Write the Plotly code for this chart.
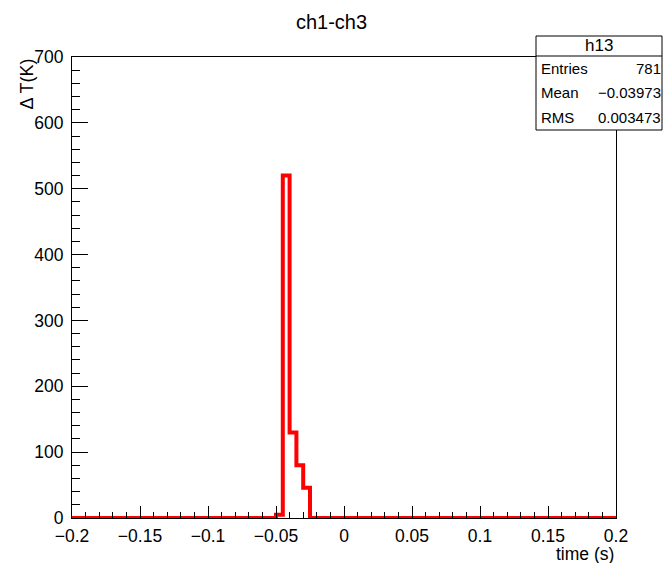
import plotly.graph_objects as go

# Histogram data: 80 bins from -0.2 to 0.2
x_min = -0.2
x_max = 0.2
n_bins = 80
nonzero_bin_lows = [-0.05, -0.045, -0.04, -0.035, -0.03]
nonzero_counts = [5, 520, 130, 80, 46]

x_tick_vals = [-0.2, -0.15, -0.1, -0.05, 0, 0.05, 0.1, 0.15, 0.2]
x_tick_text = ["\u22120.2", "\u22120.15", "\u22120.1", "\u22120.05", "0", "0.05", "0.1", "0.15", "0.2"]
y_tick_vals = [0, 100, 200, 300, 400, 500, 600, 700]
y_tick_text = ["0", "100", "200", "300", "400", "500", "600", "700"]

title_text = "ch1-ch3"
x_title = "time (s)"
y_title = "\u0394 T(K)"
stats_name = "h13"
stats_labels = ["Entries", "Mean", "RMS"]
stats_values = ["781", "\u22120.03973", "0.003473"]

width = (x_max - x_min) / n_bins
edges = [round(x_min + i * width, 6) for i in range(n_bins + 1)]
counts = [0.0] * n_bins
for lo, c in zip(nonzero_bin_lows, nonzero_counts):
    idx = int(round((lo - x_min) / width))
    counts[idx] = c
ys = counts + [counts[-1]]

font_family = "Liberation Sans, Arial, Helvetica, sans-serif"

fig = go.Figure()
fig.add_trace(go.Scatter(
    x=edges, y=ys, mode="lines", line=dict(color="#ff0000", width=4, shape="hv"),
    hoverinfo="skip", showlegend=False,
))

axis_common = dict(
    showgrid=False, zeroline=False, showline=True, linecolor="black", linewidth=1,
    mirror=True, ticks="inside", tickcolor="black", automargin=False,
    tickfont=dict(family=font_family, size=17.5, color="black"),
)

fig.update_layout(
    width=663, height=563,
    margin=dict(l=72, r=47, t=57, b=45),
    paper_bgcolor="white", plot_bgcolor="white",
    font=dict(family=font_family, color="black"),
    showlegend=False,
    title=dict(text=title_text, x=0.5, xanchor="center", y=1 - 22 / 563, yanchor="middle",
               font=dict(size=20, family=font_family, color="black")),
    xaxis=dict(range=[x_min, x_max], tickmode="array", tickvals=x_tick_vals, ticktext=x_tick_text,
               tickangle=0, ticklen=12, ticklabelstandoff=2,
               minor=dict(ticks="inside", tickmode="linear", tick0=-0.2, dtick=0.01, ticklen=6, tickcolor="black"),
               **axis_common),
    yaxis=dict(range=[0, 700], tickmode="array", tickvals=y_tick_vals, ticktext=y_tick_text,
               ticklen=16, ticklabelstandoff=4,
               minor=dict(ticks="inside", tickmode="linear", tick0=0, dtick=20, ticklen=8, tickcolor="black"),
               **axis_common),
)

# axis titles
fig.add_annotation(text=x_title, xref="paper", yref="paper", x=1.0, y=-36 / 461,
                   xanchor="right", yanchor="middle", showarrow=False,
                   font=dict(size=17.5, family=font_family, color="black"))
fig.add_annotation(text=y_title, xref="paper", yref="paper", x=-46 / 544, y=1.0,
                   xanchor="center", yanchor="top", textangle=-90, showarrow=False,
                   font=dict(size=18, family=font_family, color="black"))

# stats box
bx0, bx1 = (536 - 72) / 544, (662 - 72) / 544
by1, by0 = (518 - 36) / 461, (518 - 130) / 461
bdiv = (518 - 56) / 461
fig.add_shape(type="rect", xref="paper", yref="paper", x0=bx0, x1=bx1, y0=by0, y1=by1,
              line=dict(color="black", width=1), fillcolor="white", layer="above")
fig.add_shape(type="line", xref="paper", yref="paper", x0=bx0, x1=bx1, y0=bdiv, y1=bdiv,
              line=dict(color="black", width=1), layer="above")
fig.add_annotation(text=stats_name, xref="paper", yref="paper", x=(bx0 + bx1) / 2,
                   y=(by1 + bdiv) / 2, xanchor="center", yanchor="middle", showarrow=False,
                   font=dict(size=17, family=font_family, color="black"))
row_h = (bdiv - by0) / 3
for i, (lab, val) in enumerate(zip(stats_labels, stats_values)):
    yc = bdiv - row_h * (i + 0.5)
    fig.add_annotation(text=lab, xref="paper", yref="paper", x=(539 - 72) / 544, y=yc,
                       xanchor="left", yanchor="middle", showarrow=False,
                       font=dict(size=15, family=font_family, color="black"))
    fig.add_annotation(text=val, xref="paper", yref="paper", x=(663 - 72) / 544, y=yc,
                       xanchor="right", yanchor="middle", showarrow=False,
                       font=dict(size=15, family=font_family, color="black"))

fig.write_html("out.html")
